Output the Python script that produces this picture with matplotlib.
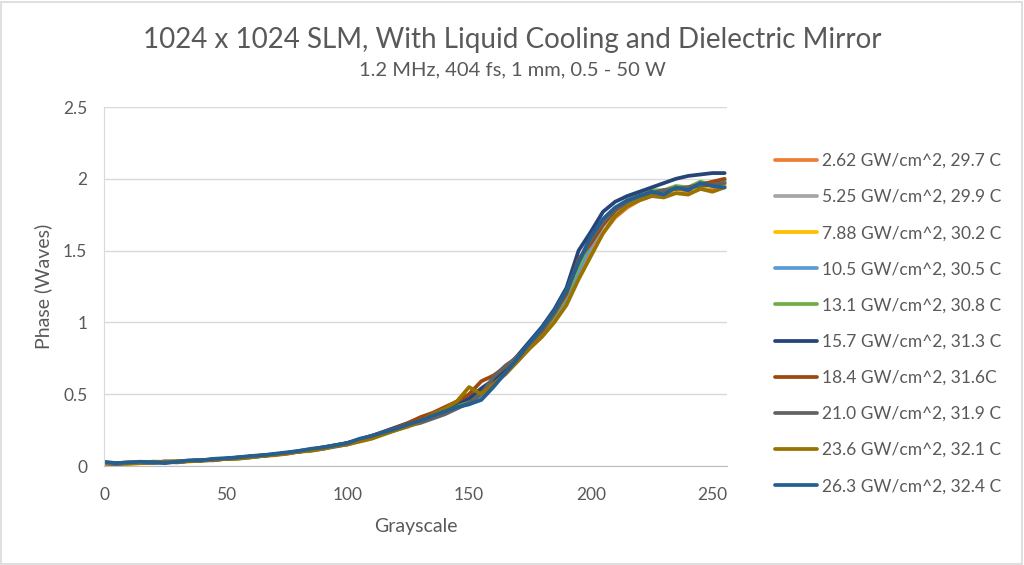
import matplotlib
matplotlib.use("Agg")
import matplotlib.pyplot as plt
from matplotlib.patches import Rectangle

plt.rcParams['font.family'] = ['Lato', 'DejaVu Sans']

grayscale = list(range(0, 256, 5))

labels = [
    "2.62 GW/cm^2, 29.7 C",
    "5.25 GW/cm^2, 29.9 C",
    "7.88 GW/cm^2, 30.2 C",
    "10.5 GW/cm^2, 30.5 C",
    "13.1 GW/cm^2, 30.8 C",
    "15.7 GW/cm^2, 31.3 C",
    "18.4 GW/cm^2, 31.6C",
    "21.0 GW/cm^2, 31.9 C",
    "23.6 GW/cm^2, 32.1 C",
    "26.3 GW/cm^2, 32.4 C",
]

colors = ["#ED7D31", "#A5A5A5", "#FFC000", "#5B9BD5", "#70AD47",
          "#264478", "#9E480E", "#636363", "#997300", "#255E91"]

s_2_62 = [0.02,0.015,0.02,0.02,0.03,0.025,0.03,0.035,0.04,0.04,0.05,0.055,0.06,0.07,0.08,0.085,0.10,0.11,0.12,0.14,0.15,0.175,0.2,0.225,0.255,0.285,0.32,0.35,0.385,0.43,0.47,0.52,0.58,0.65,0.73,0.83,0.92,1.02,1.14,1.32,1.48,1.62,1.73,1.80,1.85,1.88,1.88,1.91,1.90,1.93,1.93,1.95]
s_5_25 = [0.01,0.02,0.02,0.025,0.02,0.03,0.03,0.035,0.04,0.045,0.05,0.06,0.065,0.07,0.08,0.09,0.1,0.115,0.13,0.14,0.16,0.18,0.2,0.235,0.26,0.29,0.325,0.355,0.39,0.43,0.47,0.53,0.59,0.66,0.75,0.84,0.94,1.05,1.18,1.37,1.53,1.67,1.77,1.83,1.87,1.90,1.90,1.93,1.93,1.96,1.95,1.97]
s_7_88 = [0.02,0.02,0.025,0.02,0.025,0.03,0.035,0.03,0.04,0.045,0.05,0.055,0.065,0.075,0.08,0.09,0.1,0.11,0.125,0.145,0.155,0.18,0.21,0.23,0.265,0.295,0.325,0.36,0.4,0.44,0.5,0.53,0.59,0.66,0.74,0.84,0.94,1.05,1.18,1.38,1.54,1.68,1.78,1.84,1.88,1.9,1.92,1.92,1.93,1.94,1.95,1.96]
s_10_5 = [0.02,0.02,0.02,0.025,0.025,0.03,0.03,0.035,0.04,0.045,0.05,0.055,0.065,0.07,0.08,0.09,0.1,0.11,0.125,0.14,0.155,0.18,0.2,0.225,0.255,0.285,0.31,0.345,0.375,0.41,0.43,0.47,0.56,0.65,0.74,0.84,0.93,1.04,1.17,1.36,1.53,1.68,1.78,1.84,1.88,1.9,1.92,1.93,1.94,1.95,1.97,1.98]
s_13_1 = [0.02,0.02,0.02,0.025,0.03,0.03,0.03,0.035,0.04,0.045,0.05,0.055,0.065,0.07,0.08,0.09,0.1,0.115,0.125,0.14,0.16,0.18,0.205,0.23,0.26,0.29,0.32,0.355,0.39,0.42,0.46,0.52,0.58,0.66,0.74,0.84,0.94,1.05,1.19,1.39,1.56,1.70,1.79,1.85,1.89,1.92,1.92,1.95,1.94,1.98,1.96,1.99]
s_15_7 = [0.02,0.02,0.025,0.025,0.025,0.03,0.03,0.035,0.04,0.045,0.05,0.06,0.065,0.075,0.08,0.09,0.105,0.115,0.13,0.145,0.16,0.185,0.21,0.24,0.27,0.3,0.335,0.365,0.4,0.44,0.47,0.54,0.6,0.68,0.77,0.87,0.97,1.09,1.24,1.5,1.63,1.77,1.84,1.88,1.91,1.94,1.97,2.0,2.02,2.03,2.04,2.04]
s_18_4 = [0.02,0.02,0.02,0.025,0.025,0.03,0.03,0.035,0.04,0.045,0.05,0.055,0.065,0.07,0.08,0.09,0.1,0.11,0.125,0.14,0.16,0.185,0.21,0.235,0.265,0.3,0.34,0.37,0.41,0.45,0.5,0.59,0.63,0.69,0.76,0.85,0.94,1.06,1.2,1.44,1.55,1.68,1.78,1.84,1.88,1.9,1.92,1.93,1.94,1.96,1.98,2.0]
s_21_0 = [0.02,0.01,0.02,0.02,0.025,0.03,0.025,0.035,0.04,0.04,0.05,0.055,0.06,0.07,0.08,0.09,0.1,0.11,0.12,0.135,0.15,0.18,0.2,0.225,0.25,0.28,0.3,0.33,0.36,0.4,0.44,0.5,0.62,0.7,0.76,0.85,0.95,1.07,1.22,1.42,1.58,1.7,1.79,1.84,1.88,1.9,1.92,1.93,1.94,1.95,1.96,1.97]
s_23_6 = [0.02,0.02,0.015,0.02,0.025,0.025,0.03,0.035,0.035,0.045,0.05,0.05,0.06,0.07,0.075,0.085,0.1,0.105,0.12,0.14,0.15,0.17,0.19,0.22,0.25,0.275,0.31,0.36,0.4,0.45,0.55,0.5,0.57,0.64,0.73,0.82,0.9,1.0,1.12,1.3,1.46,1.62,1.74,1.81,1.85,1.88,1.87,1.9,1.89,1.93,1.91,1.94]
s_26_3 = [0.03,0.02,0.025,0.03,0.025,0.02,0.03,0.04,0.04,0.05,0.055,0.06,0.07,0.075,0.085,0.095,0.105,0.12,0.13,0.145,0.16,0.19,0.21,0.235,0.26,0.29,0.315,0.35,0.38,0.41,0.43,0.46,0.55,0.65,0.75,0.86,0.96,1.08,1.22,1.42,1.6,1.72,1.8,1.85,1.88,1.91,1.89,1.94,1.92,1.97,1.95,1.94]

series = [s_2_62, s_5_25, s_7_88, s_10_5, s_13_1, s_15_7, s_18_4, s_21_0, s_23_6, s_26_3]

yticks = [0, 0.5, 1, 1.5, 2, 2.5]
ytick_labels = ["0", "0.5", "1", "1.5", "2", "2.5"]
xticks = [0, 50, 100, 150, 200, 250]

fig = plt.figure(figsize=(10.24, 5.65), dpi=100)
fig.patches.append(Rectangle((0.001, 0.002), 0.997, 0.995, transform=fig.transFigure,
                             fill=False, edgecolor="#D9D9D9", linewidth=1.2))
ax = fig.add_axes([0.1016, 0.1752, 0.6084, 0.6354])

handles = []
for vals, lab, col in zip(series, labels, colors):
    h, = ax.plot(grayscale, vals, color=col, linewidth=2.7, label=lab,
                 solid_joinstyle="round", solid_capstyle="round")
    handles.append(h)

ax.set_xlim(0, 256)
ax.set_ylim(0, 2.5)
ax.set_yticks(yticks)
ax.set_yticklabels(ytick_labels)
ax.set_xticks(xticks)
ax.grid(axis="y", color="#D9D9D9", linewidth=1.0)
ax.set_axisbelow(True)
for sp in ["top", "right"]:
    ax.spines[sp].set_visible(False)
ax.spines["left"].set_color("#D9D9D9")
ax.spines["bottom"].set_color("#BFBFBF")
ax.tick_params(axis="both", length=0, labelsize=12.5, labelcolor="#595959")
ax.tick_params(axis="x", pad=15)
ax.tick_params(axis="y", pad=12)

ax.set_xlabel("Grayscale", fontsize=14, color="#595959", labelpad=11)
ax.set_ylabel("Phase (Waves)", fontsize=14, color="#595959", labelpad=8)

fig.text(0.5, 0.929, "1024 x 1024 SLM, With Liquid Cooling and Dielectric Mirror",
         ha="center", va="center", fontsize=20, color="#595959")
fig.text(0.5, 0.876, "1.2 MHz, 404 fs, 1 mm, 0.5 - 50 W",
         ha="center", va="center", fontsize=14.5, color="#595959")

leg = fig.legend(handles=handles, labels=labels, loc="upper left",
                 bbox_to_anchor=(0.742, 0.757), frameon=False,
                 fontsize=12.5, labelcolor="#595959", handlelength=2.4,
                 handletextpad=0.3, labelspacing=1.16)

fig.savefig("out.png", dpi=100)
